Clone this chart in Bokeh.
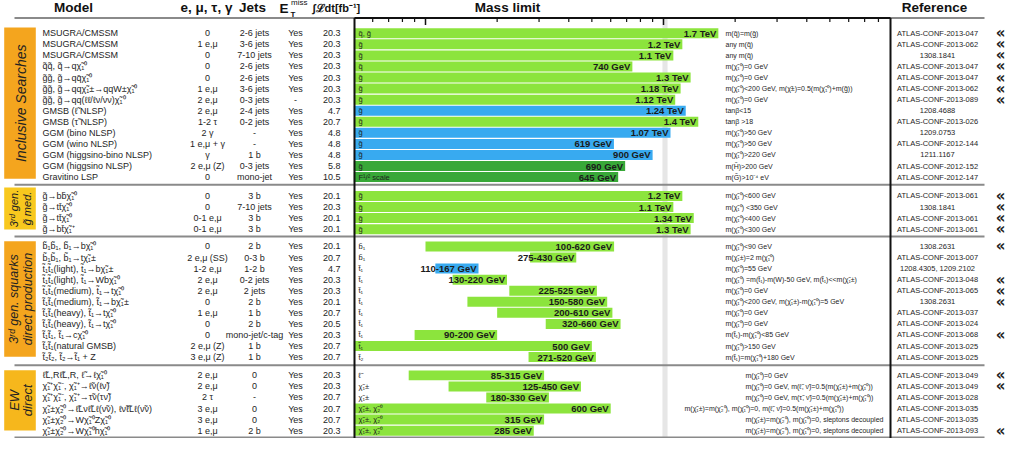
import math
from bokeh.plotting import figure
from bokeh.models import Range1d, LogScale, ColumnDataSource
from bokeh.core.properties import value
from bokeh.embed import file_html
from bokeh.resources import INLINE

# ---------------------------------------------------------------- data
section_names = ["Inclusive Searches", "3rd gen. gluino med.", "3rd gen. squarks direct production", "EW direct"]
section_sizes = [14, 4, 11, 6]

models = [
    "MSUGRA/CMSSM", "MSUGRA/CMSSM", "MSUGRA/CMSSM",
    "q̃q̃, q̃→qχ̃₁⁰",
    "g̃g̃, g̃→qq̄χ̃₁⁰",
    "g̃g̃, g̃→qqχ̃₁±→qqW±χ̃₁⁰",
    "g̃g̃, g̃→qq(ℓℓ/ℓν/νν)χ̃₁⁰",
    "GMSB (ℓ̃ NLSP)",
    "GMSB (τ̃ NLSP)",
    "GGM (bino NLSP)",
    "GGM (wino NLSP)",
    "GGM (higgsino-bino NLSP)",
    "GGM (higgsino NLSP)",
    "Gravitino LSP",
    "g̃→bb̄χ̃₁⁰",
    "g̃→tt̄χ̃₁⁰",
    "g̃→tt̄χ̃₁⁰",
    "g̃→bt̄χ̃₁⁺",
    "b̃₁b̃₁, b̃₁→bχ̃₁⁰",
    "b̃₁b̃₁, b̃₁→tχ̃₁±",
    "t̃₁t̃₁(light), t̃₁→bχ̃₁±",
    "t̃₁t̃₁(light), t̃₁→Wbχ̃₁⁰",
    "t̃₁t̃₁(medium), t̃₁→tχ̃₁⁰",
    "t̃₁t̃₁(medium), t̃₁→bχ̃₁±",
    "t̃₁t̃₁(heavy), t̃₁→tχ̃₁⁰",
    "t̃₁t̃₁(heavy), t̃₁→tχ̃₁⁰",
    "t̃₁t̃₁, t̃₁→cχ̃₁⁰",
    "t̃₁t̃₁(natural GMSB)",
    "t̃₂t̃₂, t̃₂→t̃₁ + Z",
    "ℓ̃L,Rℓ̃L,R, ℓ̃→ℓχ̃₁⁰",
    "χ̃₁⁺χ̃₁⁻, χ̃₁⁺→ℓ̃ν(ℓν̃)",
    "χ̃₁⁺χ̃₁⁻, χ̃₁⁺→τ̃ν(τν̃)",
    "χ̃₁±χ̃₂⁰→ℓ̃Lνℓ̃Lℓ(ν̃ν), ℓν̃ℓ̃Lℓ(ν̃ν)",
    "χ̃₁±χ̃₂⁰→Wχ̃₁⁰Zχ̃₁⁰",
    "χ̃₁±χ̃₂⁰→Wχ̃₁⁰hχ̃₁⁰",
]

leptons = [
    "0", "1 e,μ", "0", "0", "0", "1 e,μ", "2 e,μ", "2 e,μ", "1-2 τ", "2 γ", "1 e,μ + γ", "γ", "2 e,μ (Z)", "0",
    "0", "0", "0-1 e,μ", "0-1 e,μ",
    "0", "2 e,μ (SS)", "1-2 e,μ", "2 e,μ", "2 e,μ", "0", "1 e,μ", "0", "0", "2 e,μ (Z)", "3 e,μ (Z)",
    "2 e,μ", "2 e,μ", "2 τ", "3 e,μ", "3 e,μ", "1 e,μ",
]

jets = [
    "2-6 jets", "3-6 jets", "7-10 jets", "2-6 jets", "2-6 jets", "3-6 jets", "0-3 jets", "2-4 jets", "0-2 jets",
    "-", "-", "1 b", "0-3 jets", "mono-jet",
    "3 b", "7-10 jets", "3 b", "3 b",
    "2 b", "0-3 b", "1-2 b", "0-2 jets", "2 jets", "2 b", "1 b", "2 b", "mono-jet/c-tag", "1 b", "1 b",
    "0", "0", "-", "0", "0", "2 b",
]

met = ["Yes"] * 6 + ["-"] + ["Yes"] * 7 + ["Yes"] * 4 + ["Yes"] * 11 + ["Yes"] * 6

lumi = [
    20.3, 20.3, 20.3, 20.3, 20.3, 20.3, 20.3, 4.7, 20.7, 4.8, 4.8, 4.8, 5.8, 10.5,
    20.1, 20.3, 20.1, 20.1,
    20.1, 20.7, 4.7, 20.3, 20.3, 20.1, 20.7, 20.5, 20.3, 20.7, 20.7,
    20.3, 20.3, 20.7, 20.7, 20.7, 20.3,
]

bar_labels = [
    "q̃, g̃", "g̃", "g̃", "q̃", "g̃", "g̃", "g̃", "g̃", "g̃", "g̃", "g̃", "g̃", "g̃", "F¹/² scale",
    "g̃", "g̃", "g̃", "g̃",
    "b̃₁", "b̃₁", "t̃₁", "t̃₁", "t̃₁", "t̃₁", "t̃₁", "t̃₁", "t̃₁", "t̃₁", "t̃₂",
    "ℓ̃", "χ̃₁±", "χ̃₁±", "χ̃₁±, χ̃₂⁰", "χ̃₁±, χ̃₂⁰", "χ̃₁±, χ̃₂⁰",
]

# mass limits in GeV (None = excluded from the lowest mass)
limit_lo_gev = [None] * 14 + [None] * 4 + [100, 275, 110, 130, 225, 150, 200, 320, 90, None, 271] + \
               [85, 125, 180, None, None, None]
limit_hi_gev = [1700, 1200, 1100, 740, 1300, 1180, 1120, 1240, 1400, 1070, 619, 900, 690, 645,
                1200, 1100, 1340, 1300,
                620, 430, 167, 220, 525, 580, 610, 660, 200, 500, 520,
                315, 450, 330, 600, 315, 285]

# dataset kind: "8" = 8 TeV, "7" = 7 TeV, "8p" = 8 TeV partial
bar_kind = ["8"] * 7 + ["7", "8", "7", "7", "7", "8p", "8p"] + ["8"] * 4 + \
           ["8", "8", "7", "8", "8", "8", "8", "8", "8", "8", "8"] + ["8"] * 6

conditions = [
    "m(q̃)=m(g̃)", "any m(q̃)", "any m(q̃)", "m(χ̃₁⁰)=0 GeV", "m(χ̃₁⁰)=0 GeV",
    "m(χ̃₁⁰)<200 GeV, m(χ̃±)=0.5(m(χ̃₁⁰)+m(g̃))", "m(χ̃₁⁰)=0 GeV", "tanβ<15", "tanβ >18",
    "m(χ̃₁⁰)>50 GeV", "m(χ̃₁⁰)>50 GeV", "m(χ̃₁⁰)>220 GeV", "m(H̃)>200 GeV", "m(G̃)>10⁻⁴ eV",
    "m(χ̃₁⁰)<600 GeV", "m(χ̃₁⁰) <350 GeV", "m(χ̃₁⁰)<400 GeV", "m(χ̃₁⁰)<300 GeV",
    "m(χ̃₁⁰)<90 GeV", "m(χ̃₁±)=2 m(χ̃₁⁰)", "m(χ̃₁⁰)=55 GeV",
    "m(χ̃₁⁰) =m(t̃₁)-m(W)-50 GeV, m(t̃₁)<<m(χ̃₁±)", "m(χ̃₁⁰)=0 GeV",
    "m(χ̃₁⁰)<200 GeV, m(χ̃₁±)-m(χ̃₁⁰)=5 GeV", "m(χ̃₁⁰)=0 GeV", "m(χ̃₁⁰)=0 GeV",
    "m(t̃₁)-m(χ̃₁⁰)<85 GeV", "m(χ̃₁⁰)>150 GeV", "m(t̃₁)=m(χ̃₁⁰)+180 GeV",
    "m(χ̃₁⁰)=0 GeV",
    "m(χ̃₁⁰)=0 GeV, m(ℓ̃, ν̃)=0.5(m(χ̃₁±)+m(χ̃₁⁰))",
    "m(χ̃₁⁰)=0 GeV, m(τ̃, ν̃)=0.5(m(χ̃₁±)+m(χ̃₁⁰))",
    "m(χ̃₁±)=m(χ̃₂⁰), m(χ̃₁⁰)=0, m(ℓ̃, ν̃)=0.5(m(χ̃₁±)+m(χ̃₁⁰))",
    "m(χ̃₁±)=m(χ̃₂⁰), m(χ̃₁⁰)=0, sleptons decoupled",
    "m(χ̃₁±)=m(χ̃₂⁰), m(χ̃₁⁰)=0, sleptons decoupled",
]

references = [
    "ATLAS-CONF-2013-047", "ATLAS-CONF-2013-062", "1308.1841", "ATLAS-CONF-2013-047", "ATLAS-CONF-2013-047",
    "ATLAS-CONF-2013-062", "ATLAS-CONF-2013-089", "1208.4688", "ATLAS-CONF-2013-026", "1209.0753",
    "ATLAS-CONF-2012-144", "1211.1167", "ATLAS-CONF-2012-152", "ATLAS-CONF-2012-147",
    "ATLAS-CONF-2013-061", "1308.1841", "ATLAS-CONF-2013-061", "ATLAS-CONF-2013-061",
    "1308.2631", "ATLAS-CONF-2013-007", "1208.4305, 1209.2102", "ATLAS-CONF-2013-048", "ATLAS-CONF-2013-065",
    "1308.2631", "ATLAS-CONF-2013-037", "ATLAS-CONF-2013-024", "ATLAS-CONF-2013-068", "ATLAS-CONF-2013-025",
    "ATLAS-CONF-2013-025",
    "ATLAS-CONF-2013-049", "ATLAS-CONF-2013-049", "ATLAS-CONF-2013-028", "ATLAS-CONF-2013-035",
    "ATLAS-CONF-2013-035", "ATLAS-CONF-2013-093",
]

new_result = [1, 1, 1, 1, 1, 1, 1, 0, 0, 0, 0, 0, 0, 0,
              1, 1, 1, 1,
              1, 0, 0, 1, 1, 1, 0, 0, 1, 0, 0,
              1, 1, 0, 0, 0, 1]

mass_major_ticks_tev = [0.1, 1.0]
mass_minor_ticks_tev = [0.06, 0.07, 0.08, 0.09, 0.2, 0.3, 0.4, 0.5, 0.6, 0.7, 0.8, 0.9,
                        2, 3, 4, 5, 6, 7, 8]

# ---------------------------------------------------------------- layout / style
FONT = "Liberation Sans"
TXT = "#1e1e1e"
KIND_COLOR = {"8": "#8ce43d", "7": "#38aaf0", "8p": "#38a838"}
SEC_COLOR = ["#f4a51e", "#f8c81e", "#f4a51e", "#f6b71c"]
SEC_BOX = [(31.7, 186.0), (195.0, 238.0), (250.0, 368.0), (381.7, 443.3)]
SEC_FIRST_Y = [37.5, 203.7, 255.3, 387.0]
PITCH = 11.3
SEPARATORS = [22.0, 192.3, 245.0, 376.7, 450.5]
FRAME_L, FRAME_R, FRAME_TOP, FRAME_BOT = 362, 898, 22, 453
PX_PER_DECADE = 238.0
X_ONE_TEV = 671.0
X0, X1 = 8, 1015
MASS_AXIS_MIN = 0.05
mass_lo = 10 ** ((X0 - X_ONE_TEV) / PX_PER_DECADE)
mass_hi = 10 ** ((X1 - X_ONE_TEV) / PX_PER_DECADE)

ys = []
for s, n in enumerate(section_sizes):
    for i in range(n):
        ys.append(SEC_FIRST_Y[s] + i * PITCH)

cond_x = [733] * 29 + [753, 753, 753, 692, 753, 753]


def fmt_limit(lo, hi):
    if lo is not None:
        return f"{lo:g}-{hi:g} GeV"
    if hi >= 1000:
        return f"{hi / 1000:g} TeV"
    return f"{hi:g} GeV"


p = figure(width=1007, height=438, x_range=Range1d(X0, X1), y_range=Range1d(451.5, 4),
           x_axis_type=None, y_axis_type=None, output_backend="svg", toolbar_location=None,
           min_border=0, outline_line_color=None)
p.title.visible = False
p.extra_x_ranges = {"mass": Range1d(mass_lo, mass_hi)}
p.extra_x_scales = {"mass": LogScale()}

# grey band at 1 TeV
p.quad(left=[0.99], right=[1.04], top=[FRAME_TOP], bottom=[451], fill_color="#e6e6e6",
       line_color=None, x_range_name="mass")

# bars
bsrc = ColumnDataSource(dict(
    y=ys,
    left=[MASS_AXIS_MIN if lo is None else lo / 1000 for lo in limit_lo_gev],
    right=[hi / 1000 for hi in limit_hi_gev],
    color=[KIND_COLOR[k] for k in bar_kind],
    vlabel=[fmt_limit(lo, hi) for lo, hi in zip(limit_lo_gev, limit_hi_gev)],
))
p.hbar(y="y", height=10.2, left="left", right="right", fill_color="color", line_color=None,
       source=bsrc, x_range_name="mass")
p.text(x="right", y="y", text="vlabel", source=bsrc, x_range_name="mass", x_offset=-2,
       text_align="right", text_baseline="middle", text_font=value(FONT),
       text_font_size=value("9.5px"), text_font_style="bold", text_color="#1a1a1a")

# section boxes
p.quad(left=[11.7] * 4, right=[43.3] * 4, top=[b[0] for b in SEC_BOX], bottom=[b[1] for b in SEC_BOX],
       fill_color=SEC_COLOR, line_color=None)
sec_lines = [("Inclusive Searches", 28.5, 109.0, "14px"),
             ("3ʳᵈ gen.", 21.5, 216.5, "11px"), ("g̃ med.", 34.5, 216.5, "11px"),
             ("3ʳᵈ gen. squarks", 21.5, 309.0, "12.5px"), ("direct production", 35.0, 309.0, "12.5px"),
             ("EW", 21.5, 412.5, "13px"), ("direct", 35.0, 412.5, "13px")]
for t, x, y, fs in sec_lines:
    p.text(x=[x], y=[y], text=[t], angle=math.pi / 2, text_align="center", text_baseline="middle",
           text_font=value(FONT), text_font_size=value(fs), text_font_style="italic", text_color="#222222")

# separators and frame
p.segment(x0=[22] * len(SEPARATORS), x1=[992] * len(SEPARATORS), y0=SEPARATORS, y1=SEPARATORS,
          line_color="#8a8a8a", line_width=2)
p.segment(x0=[FRAME_L, FRAME_R, FRAME_L], x1=[FRAME_L, FRAME_R, FRAME_R],
          y0=[FRAME_TOP, FRAME_TOP, FRAME_TOP], y1=[FRAME_BOT, FRAME_BOT, FRAME_TOP],
          line_color="#111111", line_width=2)
p.segment(x0=mass_major_ticks_tev, x1=mass_major_ticks_tev, y0=[FRAME_TOP] * 2, y1=[FRAME_TOP + 7] * 2,
          line_color="#111111", line_width=1.5, x_range_name="mass")
p.segment(x0=mass_minor_ticks_tev, x1=mass_minor_ticks_tev, y0=[FRAME_TOP] * len(mass_minor_ticks_tev),
          y1=[FRAME_TOP + 4] * len(mass_minor_ticks_tev), line_color="#111111", line_width=1.2,
          x_range_name="mass")

# table text
src = ColumnDataSource(dict(
    y=ys, model=models, lep=leptons, jets=jets, met=met,
    lumi=[f"{v:.1f}" for v in lumi], blabel=bar_labels, cond=conditions, cx=cond_x, ref=references,
))
common = dict(source=src, text_baseline="middle", text_font=value(FONT), text_color=TXT)
p.text(x=50, y="y", text="model", text_align="left", text_font_size=value("9px"), **common)
p.text(x=215, y="y", text="lep", text_align="center", text_font_size=value("9px"), **common)
p.text(x=262, y="y", text="jets", text_align="center", text_font_size=value("9px"), **common)
p.text(x=303, y="y", text="met", text_align="center", text_font_size=value("9px"), **common)
p.text(x=348, y="y", text="lumi", text_align="right", text_font_size=value("9px"), **common)
p.text(x=366, y="y", text="blabel", text_align="left", text_font_size=value("7.5px"), **common)
p.text(x="cx", y="y", text="cond", text_align="left", text_font_size=value("7px"), **common)
p.text(x=945, y="y", text="ref", text_align="center", text_font_size=value("7.5px"), **common)

# new-result markers
p.text(x=[1008] * sum(new_result), y=[y for y, f in zip(ys, new_result) if f],
       text=["«"] * sum(new_result), text_align="center", text_baseline="middle",
       text_font=value("DejaVu Sans"), text_font_size=value("15px"), text_font_style="bold",
       text_color="#222222")

# header
hdr = dict(text_baseline="middle", text_font=value(FONT), text_font_style="bold", text_color="#111111")
p.text(x=[81, 214, 260, 515, 942], y=[11.5] * 5,
       text=["Model", "e, μ, τ, γ", "Jets", "Mass limit", "Reference"],
       text_align="center", text_font_size=value("13.5px"), **hdr)
p.text(x=[287], y=[12], text=["E"], text_align="left", text_font_size=value("13.5px"), **hdr)
p.text(x=[298.5], y=[6.5], text=["miss"], text_align="left", text_font_size=value("8px"),
       text_baseline="middle", text_font=value(FONT), text_color="#111111")
p.text(x=[298], y=[18], text=["T"], text_align="left", text_font_size=value("8px"), **hdr)
p.text(x=[320], y=[11.5], text=["∫ℒdt[fb⁻¹]"], text_align="left", text_font_size=value("11px"), **hdr)

open("out.html", "w").write(file_html(p, INLINE))
